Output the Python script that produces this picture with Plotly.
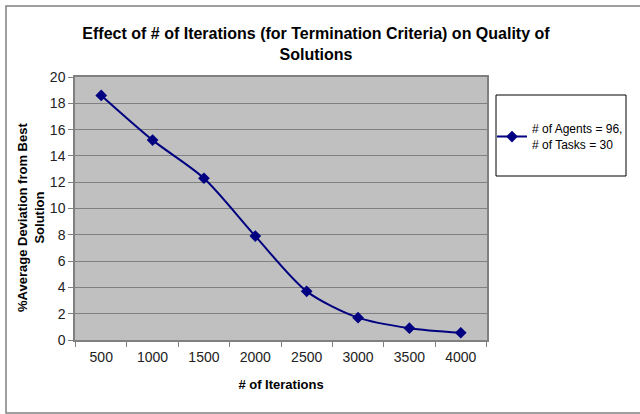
import plotly.graph_objects as go

iterations = ["500", "1000", "1500", "2000", "2500", "3000", "3500", "4000"]
deviation = [18.6, 15.2, 12.3, 7.9, 3.7, 1.7, 0.9, 0.55]
series_name = "# of Agents = 96,<br># of Tasks = 30"

W, H = 640, 414
L, R, T, B = 75, 153, 77, 74
pw, ph = W - L - R, H - T - B

def px_x(x):
    return (x - L) / pw

def px_y(y):
    return (H - B - y) / ph

fig = go.Figure()
fig.add_trace(go.Scatter(
    x=iterations, y=deviation, name=series_name,
    mode="lines+markers",
    line=dict(color="#000080", width=2, shape="spline", smoothing=0.8),
    marker=dict(symbol="diamond", size=9, color="#000080"),
))

shapes = [
    # outer chart border
    dict(type="rect", xref="paper", yref="paper",
         x0=px_x(6), x1=px_x(660), y0=px_y(413), y1=px_y(6),
         line=dict(color="#808080", width=1.5), fillcolor="rgba(0,0,0,0)", layer="below"),
    # legend box
    dict(type="rect", xref="paper", yref="paper",
         x0=px_x(496), x1=px_x(626), y0=px_y(176), y1=px_y(95),
         line=dict(color="#000000", width=1), fillcolor="white"),
]

annotations = [
    dict(text="<b>%Average Deviation from Best<br>Solution</b>",
         xref="paper", yref="paper", x=px_x(31), y=px_y(218),
         xanchor="center", yanchor="middle", textangle=-90, showarrow=False,
         font=dict(size=13, color="#000000"), align="center"),
]

fig.update_layout(
    width=W, height=H,
    margin=dict(l=L, r=R, t=T, b=B),
    paper_bgcolor="white",
    plot_bgcolor="#C0C0C0",
    font=dict(family="Arial, Liberation Sans, sans-serif", color="#000000", size=13),
    title=dict(
        text="<b>Effect of # of Iterations (for Termination Criteria) on Quality of<br>Solutions</b>",
        x=px_x(316), xanchor="center", xref="paper",
        y=1 - 39 / H, yanchor="middle", yref="container",
        font=dict(size=16, color="#000000"),
    ),
    xaxis=dict(
        type="category",
        showgrid=False,
        ticks="outside", ticklen=5, tickcolor="#808080",
        tickson="boundaries",
        showline=True, linecolor="#808080", linewidth=1.5, mirror=True,
        ticklabelstandoff=3,
        tickfont=dict(size=14, color="#222222"),
        title=dict(text="<b># of Iterations</b>", font=dict(size=13), standoff=16),
    ),
    yaxis=dict(
        range=[0, 20], dtick=2,
        showgrid=True, gridcolor="#808080", gridwidth=1,
        ticks="outside", ticklen=5, tickcolor="#808080",
        showline=True, linecolor="#808080", linewidth=1.5, mirror=True,
        zeroline=False,
        tickfont=dict(size=14, color="#222222"),
    ),
    showlegend=True,
    legend=dict(
        x=px_x(492), xanchor="left", y=px_y(137), yanchor="middle",
        bgcolor="rgba(0,0,0,0)", borderwidth=0,
        font=dict(size=12, color="#000000"),
    ),
    shapes=shapes,
    annotations=annotations,
)

fig.write_html("out.html", config={"displayModeBar": False},
               post_script="document.body.style.margin='0';")
